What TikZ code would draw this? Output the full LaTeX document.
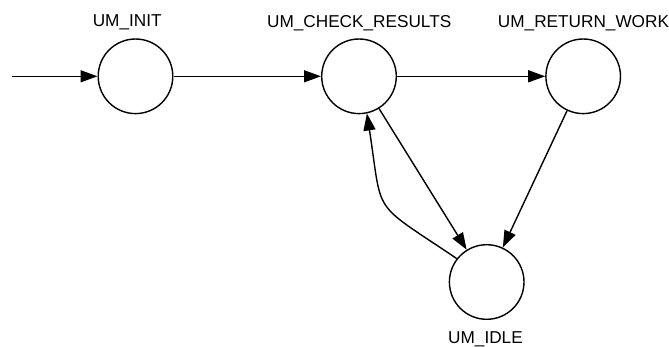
\documentclass[tikz,border=0pt]{standalone}
\usepackage{fontspec}
\setmainfont{Liberation Sans}
\usetikzlibrary{arrows.meta}
\tikzset{
  state/.style={draw, circle, line width=1.4pt, minimum size=74.6pt, inner sep=0pt},
  statelabel/.style={anchor=base, inner sep=0pt, font=\fontsize{17.2}{20}\selectfont},
  trans/.style={line width=1.4pt, -{Triangle[length=17pt,width=12pt]}}
}
\begin{document}
\begin{tikzpicture}[x=1pt, y=-1pt]
  \useasboundingbox (0,0) rectangle (669,346);
  % states
  \node[state] (init)   at (135.5,76.3) {};
  \node[state] (check)  at (359,76.3) {};
  \node[state] (return) at (583.2,76.3) {};
  \node[state] (idle)   at (486.7,282) {};
  % state names
  \node[statelabel] (linit)   at (127.2,26.5) {UM\_INIT};
  \node[statelabel] (lcheck)  at (359.2,27.3) {UM\_CHECK\_RESULTS};
  \node[statelabel] (lreturn) at (583.5,27.5) {UM\_RETURN\_WORK};
  \node[statelabel] (lidle)   at (485.5,343.3) {UM\_IDLE};
  % entry point
  \coordinate (start) at (11.7,76.3);
  % transitions
  \draw[trans] (start) -- (init);
  \draw[trans] (init) -- (check);
  \draw[trans] (check) -- (return);
  \draw[trans] (check) -- (idle);
  \draw[trans] (return) -- (idle);
  \draw[trans] (idle.142) .. controls (370,200) and (383,218) .. (check.282);
\end{tikzpicture}
\end{document}
